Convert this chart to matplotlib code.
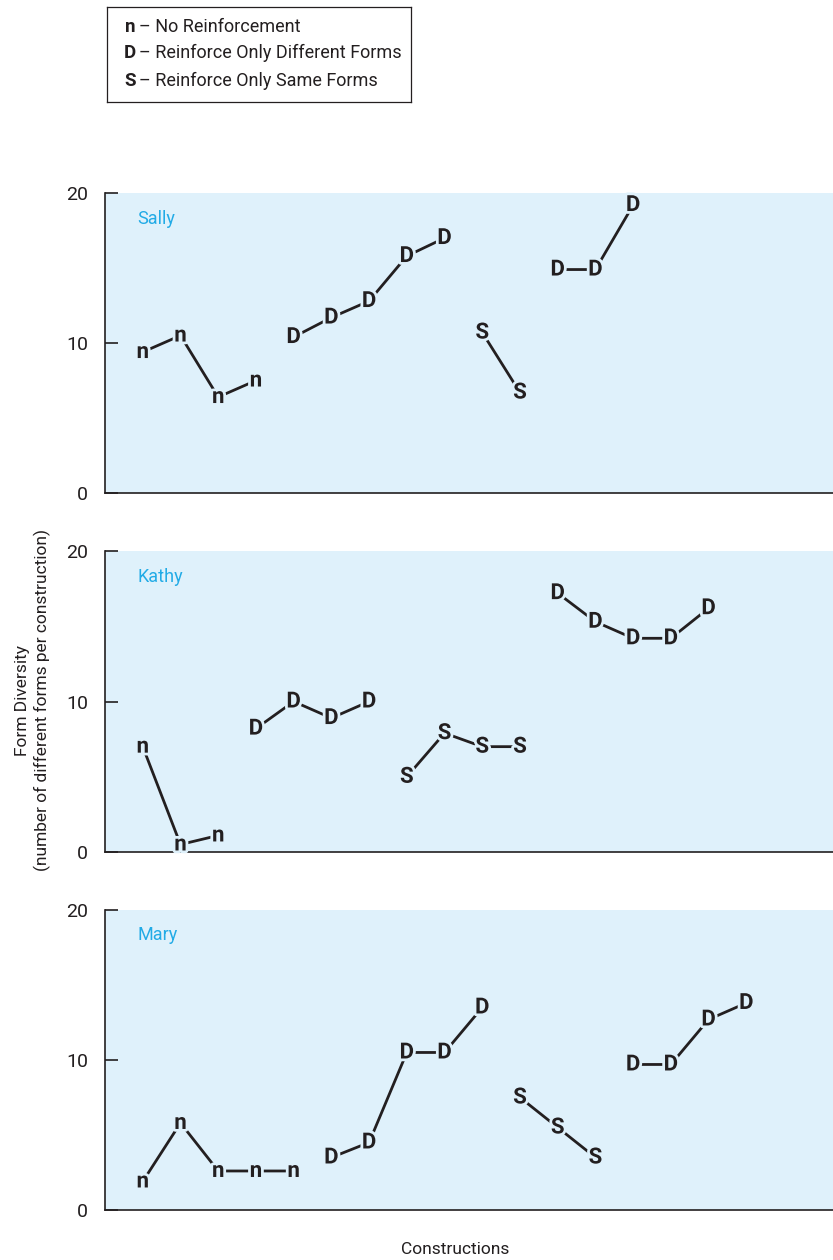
import matplotlib.pyplot as plt
import matplotlib.patheffects as pe

plt.rcParams['font.family'] = ['Roboto', 'DejaVu Sans']

# condition of each construction: n = none, D = different forms, S = same forms
names = ['Sally', 'Kathy', 'Mary']
sally_cond = list('nnnnDDDDDSSDDD')
sally_vals = [9.4, 10.5, 6.4, 7.5, 10.4, 11.7, 12.8, 15.8, 17.0, 10.7, 6.7, 14.9, 14.9, 19.2]
kathy_cond = list('nnnDDDDSSSSDDDDD')
kathy_vals = [7.0, 0.5, 1.1, 8.2, 10.0, 8.9, 10.0, 5.0, 7.9, 7.0, 7.0, 17.2, 15.3, 14.2, 14.2, 16.2]
mary_cond = list('nnnnnDDDDDSSSDDDD')
mary_vals = [1.9, 5.8, 2.6, 2.6, 2.6, 3.5, 4.5, 10.5, 10.5, 13.5, 7.5, 5.5, 3.5, 9.7, 9.7, 12.7, 13.8]

legend_keys = ['n', 'D', 'S']
legend_labels = ['No Reinforcement', 'Reinforce Only Different Forms', 'Reinforce Only Same Forms']
yticks = [0, 10, 20]

ink = '#231f20'
panel_bg = '#dff1fb'
name_color = '#22abe6'

fig = plt.figure(figsize=(8.33, 12.6), dpi=100)

# panel positions: [left, bottom, width, height] in figure fraction
boxes = [[0.1261, 0.6087, 0.874, 0.2381],
         [0.1261, 0.3238, 0.874, 0.2389],
         [0.1261, 0.0397, 0.874, 0.2381]]
all_cond = [sally_cond, kathy_cond, mary_cond]
all_vals = [sally_vals, kathy_vals, mary_vals]

halo = [pe.withStroke(linewidth=4, foreground=panel_bg)]

for box, name, cond, vals in zip(boxes, names, all_cond, all_vals):
    ax = fig.add_axes(box)
    ax.set_facecolor(panel_bg)
    ax.set_xlim(0, 19.3)
    ax.set_ylim(0, 20)
    x = list(range(1, len(vals) + 1))

    # split into phases of same condition and connect each phase
    start = 0
    for i in range(1, len(vals) + 1):
        if i == len(vals) or cond[i] != cond[start]:
            ax.plot(x[start:i], vals[start:i], color=ink, lw=2, zorder=2)
            start = i
    for xi, yi, c in zip(x, vals, cond):
        ax.text(xi, yi, c, ha='center', va='center', fontsize=16,
                fontweight='bold', color=ink, zorder=3, path_effects=halo)

    ax.text(0.044, 0.915, name, transform=ax.transAxes, color=name_color,
            fontsize=13, ha='left', va='center')

    ax.set_yticks(yticks)
    ax.set_xticks([])
    ax.tick_params(axis='y', direction='in', length=9, width=1.2, color=ink,
                   labelsize=14, labelcolor=ink, pad=12)
    for s in ['top', 'right']:
        ax.spines[s].set_visible(False)
    for s in ['left', 'bottom']:
        ax.spines[s].set_color(ink)
        ax.spines[s].set_linewidth(1.2)

# legend box
lg = fig.add_axes([107 / 833, 1 - 102 / 1260, 304 / 833, 95 / 1260])
lg.set_xticks([])
lg.set_yticks([])
for s in lg.spines.values():
    s.set_linewidth(0.9)
    s.set_color(ink)
for k, lab, yy in zip(legend_keys, legend_labels, [0.79, 0.516, 0.221]):
    lg.text(0.076, yy, k, ha='center', va='center', fontsize=13.5,
            fontweight='bold', color=ink)
    lg.text(0.105, yy, '\u2013 ' + lab, ha='left', va='center', fontsize=13,
            color=ink)

fig.text(33 / 833, 1 - 700 / 1260,
         'Form Diversity\n(number of different forms per construction)',
         rotation=90, ha='center', va='center', multialignment='center',
         fontsize=12.5, color=ink, linespacing=1.25)
fig.text(455 / 833, 1 - 1249 / 1260, 'Constructions', ha='center', va='center',
         fontsize=12.5, color=ink)

fig.savefig('out.png', dpi=100)
